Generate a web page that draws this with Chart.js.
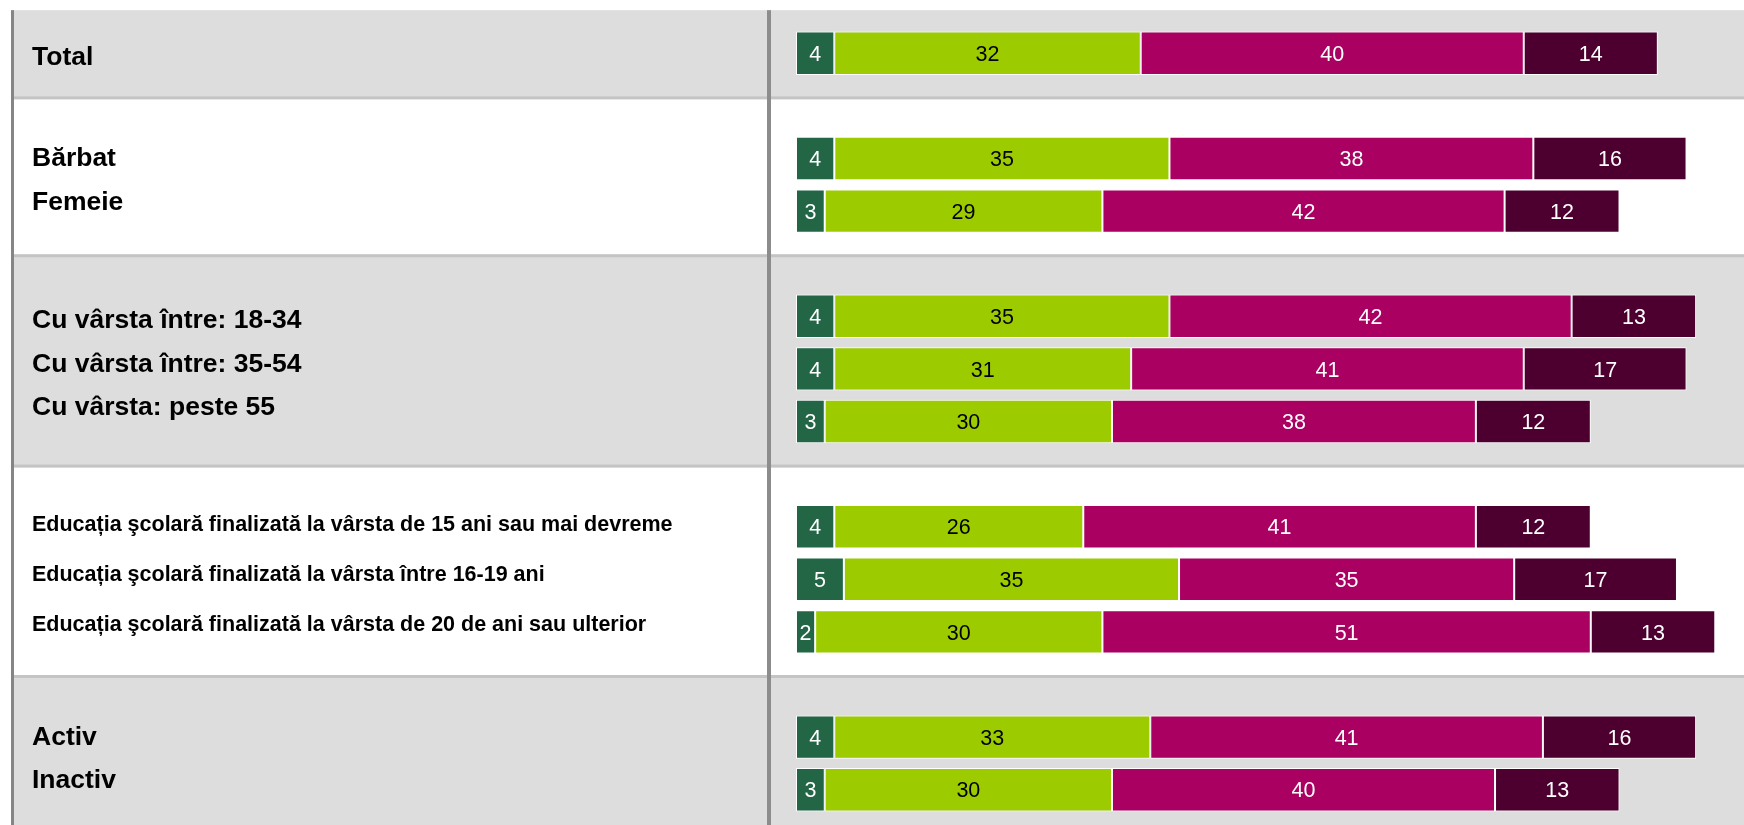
<!DOCTYPE html>
<html>
<head>
<meta charset="utf-8">
<script src="https://cdn.jsdelivr.net/npm/chart.js@4"></script>
<style>
html,body{margin:0;padding:0;background:#fff;overflow:hidden;}
#wrap{width:1744px;height:825px;position:relative;}
</style>
</head>
<body>
<div id="wrap"><canvas id="c" width="1744" height="825"></canvas></div>
<script>
// ---- data ----
const categories = [
  'Total',
  'Bărbat', 'Femeie',
  'Cu vârsta între: 18-34', 'Cu vârsta între: 35-54', 'Cu vârsta: peste 55',
  'Educația şcolară finalizată la vârsta de 15 ani sau mai devreme',
  'Educația şcolară finalizată la vârsta între 16-19 ani',
  'Educația şcolară finalizată la vârsta de 20 de ani sau ulterior',
  'Activ', 'Inactiv'
];
const groupSizes = [1, 2, 3, 3, 2];
const smallLabelGroups = [3];
const seriesNames = ['Seria 1', 'Seria 2', 'Seria 3', 'Seria 4'];
const series1 = [4, 4, 3, 4, 4, 3, 4, 5, 2, 4, 3];
const series2 = [32, 35, 29, 35, 31, 30, 26, 35, 30, 33, 30];
const series3 = [40, 38, 42, 42, 41, 38, 41, 35, 51, 41, 40];
const series4 = [14, 16, 12, 13, 17, 12, 12, 17, 13, 16, 13];
const seriesColors = ['#226646', '#9ccc00', '#aa0062', '#4d0030'];
const textColors = ['#ffffff', '#000000', '#ffffff', '#ffffff'];

// ---- build slots (a blank slot between groups) ----
const slotLabels = [];
const slotIndex = []; // category index -> slot
const blankSlots = [];
let ci = 0;
groupSizes.forEach((n, g) => {
  if (g > 0) { blankSlots.push(slotLabels.length); slotLabels.push(''); }
  for (let k = 0; k < n; k++) { slotIndex.push(slotLabels.length); slotLabels.push(categories[ci]); ci++; }
});
function toSlots(arr) {
  const out = slotLabels.map(() => null);
  arr.forEach((v, i) => { out[slotIndex[i]] = v; });
  return out;
}
const allSeries = [series1, series2, series3, series4];

const FONT = '"Liberation Sans", Arial, Helvetica, sans-serif';
const VALUE_FS = 21.5;

const tablePlugin = {
  id: 'tablePlugin',
  beforeDraw(chart) {
    const ctx = chart.ctx;
    const y = chart.scales.y;
    const W = chart.width, H = chart.height;
    const pitch = (y.bottom - y.top) / slotLabels.length;
    const top = y.top - 0.32 * pitch;
    const bounds = [top];
    blankSlots.forEach(s => bounds.push(y.top + (s + 0.5) * pitch - 8));
    bounds.push(y.top + (slotLabels.length + 0.5) * pitch - 8);
    ctx.save();
    ctx.fillStyle = '#ffffff';
    ctx.fillRect(0, 0, W, H);
    const leftX = 11;
    for (let b = 0; b < bounds.length - 1; b++) {
      ctx.fillStyle = (b % 2 === 0) ? '#dddddd' : '#ffffff';
      ctx.fillRect(leftX, bounds[b], W - leftX, bounds[b + 1] - bounds[b]);
    }
    // separators
    ctx.fillStyle = '#c4c4c4';
    for (let b = 1; b < bounds.length - 1; b++) {
      ctx.fillRect(leftX, bounds[b] - 1.5, W - leftX, 3);
    }
    // left border
    ctx.fillStyle = '#858585';
    ctx.fillRect(leftX, top, 3, H - top);
    // divider
    const divX = chart.chartArea.left - 29;
    ctx.fillStyle = '#8c8c8c';
    ctx.fillRect(divX, top, 4, H - top);

    // row labels
    ctx.fillStyle = '#000000';
    ctx.textAlign = 'left';
    ctx.textBaseline = 'alphabetic';
    let idx = 0;
    groupSizes.forEach((n, g) => {
      const small = smallLabelGroups.includes(g);
      const fs = small ? 21.5 : 26.5;
      const spacing = small ? 50 : 43.5;
      const center = (bounds[g] + bounds[g + 1]) / 2 + 1.5;
      ctx.font = 'bold ' + fs + 'px ' + FONT;
      for (let k = 0; k < n; k++) {
        const cy = center + (k - (n - 1) / 2) * spacing;
        ctx.fillText(categories[idx], 32, cy + 0.36 * fs);
        idx++;
      }
    });
    ctx.restore();
  },
  afterDatasetsDraw(chart) {
    const ctx = chart.ctx;
    ctx.save();
    ctx.font = VALUE_FS + 'px ' + FONT;
    ctx.textAlign = 'center';
    ctx.textBaseline = 'alphabetic';
    chart.data.datasets.forEach((ds, di) => {
      const meta = chart.getDatasetMeta(di);
      ctx.fillStyle = textColors[di];
      meta.data.forEach((el, i) => {
        const v = ds.data[i];
        if (v === null || v === undefined) return;
        const cx = (el.x + el.base) / 2;
        ctx.fillText(String(v), cx, el.y + 0.36 * VALUE_FS);
      });
    });
    ctx.restore();
  }
};

new Chart(document.getElementById('c'), {
  type: 'bar',
  data: {
    labels: slotLabels,
    datasets: allSeries.map((s, i) => ({
      label: seriesNames[i],
      data: toSlots(s),
      backgroundColor: seriesColors[i],
      borderColor: '#ffffff',
      borderWidth: 1,
      borderSkipped: false,
      categoryPercentage: 1,
      barPercentage: 0.825
    }))
  },
  options: {
    indexAxis: 'y',
    responsive: false,
    animation: false,
    devicePixelRatio: 1,
    layout: { padding: { left: 796, right: 0, top: 27, bottom: 9 } },
    scales: {
      x: { stacked: true, display: false, min: 0, max: 99 },
      y: { stacked: true, display: false }
    },
    plugins: {
      legend: { display: false },
      tooltip: { enabled: false }
    }
  },
  plugins: [tablePlugin]
});
</script>
</body>
</html>
